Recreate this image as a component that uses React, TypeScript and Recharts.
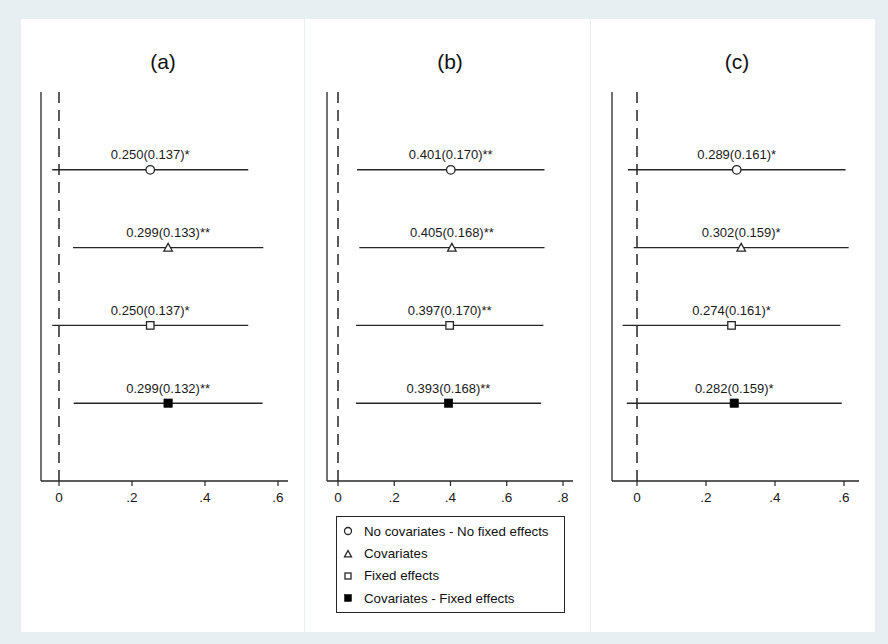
import React from 'react';
import { ScatterChart, Scatter, XAxis, YAxis, ReferenceLine, ErrorBar } from 'recharts';

const FONT = '"Liberation Sans", Arial, Helvetica, sans-serif';
const INK = '#262626';
const PAGE_BG = '#e8eff2';

// Model specifications, one marker style each
const modelNames = [
  'No covariates - No fixed effects',
  'Covariates',
  'Fixed effects',
  'Covariates - Fixed effects',
];
const modelMarkers = ['circle', 'triangle', 'square', 'filledSquare'];
// vertical slot of each model (top to bottom)
const rowSlots = [4, 3, 2, 1];

// Panel (a)
const coefA = [0.25, 0.299, 0.25, 0.299];
const seA = [0.137, 0.133, 0.137, 0.132];
const starsA = ['*', '**', '*', '**'];
const lowA = [-0.0185, 0.0383, -0.0185, 0.0403];
const highA = [0.5185, 0.5597, 0.5185, 0.5577];
const ticksA = [0, 0.2, 0.4, 0.6];

// Panel (b)
const coefB = [0.401, 0.405, 0.397, 0.393];
const seB = [0.17, 0.168, 0.17, 0.168];
const starsB = ['**', '**', '**', '**'];
const lowB = [0.0678, 0.0757, 0.0638, 0.0637];
const highB = [0.7342, 0.7343, 0.7302, 0.7223];
const ticksB = [0, 0.2, 0.4, 0.6, 0.8];

// Panel (c)
const coefC = [0.289, 0.302, 0.274, 0.282];
const seC = [0.161, 0.159, 0.161, 0.159];
const starsC = ['*', '*', '*', '*'];
const lowC = [-0.0266, -0.0096, -0.0416, -0.0296];
const highC = [0.6046, 0.6136, 0.5896, 0.5936];
const ticksC = [0, 0.2, 0.4, 0.6];

type Point = { x: number; y: number; err: [number, number]; label: string };

function buildRows(coef: number[], se: number[], stars: string[], low: number[], high: number[]): Point[][] {
  return coef.map((c, i) => [
    {
      x: c,
      y: rowSlots[i],
      err: [c - low[i], high[i] - c],
      label: `${c.toFixed(3)}(${se[i].toFixed(3)})${stars[i]}`,
    },
  ]);
}

const fmtTick = (v: number) => (v === 0 ? '0' : v.toFixed(1).replace(/^0/, ''));

function drawMarker(kind: string, cx: number, cy: number, s: number) {
  const sw = 1.3;
  if (kind === 'circle') {
    return <circle cx={cx} cy={cy} r={s * 0.5} fill="#fff" stroke={INK} strokeWidth={sw} />;
  }
  if (kind === 'triangle') {
    const h = s * 0.9;
    const pts = `${cx},${cy - h * 0.55} ${cx - s * 0.5},${cy + h * 0.45} ${cx + s * 0.5},${cy + h * 0.45}`;
    return <polygon points={pts} fill="#fff" stroke={INK} strokeWidth={sw} strokeLinejoin="miter" />;
  }
  if (kind === 'square') {
    const a = s - 1;
    return <rect x={cx - a / 2} y={cy - a / 2} width={a} height={a} fill="#fff" stroke={INK} strokeWidth={sw} />;
  }
  const a = s;
  return <rect x={cx - a / 2} y={cy - a / 2} width={a} height={a} fill="#000" stroke="#000" strokeWidth={0.5} />;
}

const makeShape = (kind: string) => (props: any) => {
  const { cx, cy, payload } = props;
  return (
    <g>
      {drawMarker(kind, cx, cy, 8.5)}
      <text
        x={cx}
        y={cy - 10.5}
        textAnchor="middle"
        fontFamily={FONT}
        fontSize={13}
        fill="#1a1a1a"
      >
        {payload.label}
      </text>
    </g>
  );
};

type PanelSpec = {
  title: string;
  left: number;
  width: number;
  titleX: number;
  domain: [number, number];
  ticks: number[];
  margin: { top: number; right: number; bottom: number; left: number };
  rows: Point[][];
};

const PANEL_TOP = 19;
const PANEL_H = 613;
const Y_AXIS_W = 1;

const panels: PanelSpec[] = [
  {
    title: '(a)',
    left: 21,
    width: 283,
    titleX: 163,
    domain: [-0.0493, 0.6274],
    ticks: ticksA,
    margin: { top: 73, right: 16, bottom: 121, left: 20 - Y_AXIS_W },
    rows: buildRows(coefA, seA, starsA, lowA, highA),
  },
  {
    title: '(b)',
    left: 305,
    width: 285,
    titleX: 450,
    domain: [-0.0391, 0.8356],
    ticks: ticksB,
    margin: { top: 73, right: 17, bottom: 121, left: 22 - Y_AXIS_W },
    rows: buildRows(coefB, seB, starsB, lowB, highB),
  },
  {
    title: '(c)',
    left: 591,
    width: 284,
    titleX: 737,
    domain: [-0.0725, 0.6435],
    ticks: ticksC,
    margin: { top: 73, right: 16, bottom: 121, left: 21 - Y_AXIS_W },
    rows: buildRows(coefC, seC, starsC, lowC, highC),
  },
];

function Panel({ spec }: { spec: PanelSpec }) {
  return (
    <div
      style={{
        position: 'absolute',
        left: spec.left,
        top: PANEL_TOP,
        width: spec.width,
        height: PANEL_H,
        background: '#fff',
      }}
    >
      <div
        style={{
          position: 'absolute',
          left: spec.titleX - spec.left - 40,
          width: 80,
          top: 62 - PANEL_TOP - 13,
          height: 26,
          lineHeight: '26px',
          textAlign: 'center',
          fontFamily: FONT,
          fontSize: 21,
          color: '#111',
        }}
      >
        {spec.title}
      </div>
      <ScatterChart width={spec.width} height={PANEL_H} margin={spec.margin}>
        <XAxis
          type="number"
          dataKey="x"
          domain={spec.domain}
          ticks={spec.ticks}
          allowDataOverflow
          tickFormatter={fmtTick}
          height={30}
          tickSize={5}
          tickMargin={6}
          axisLine={{ stroke: INK, strokeWidth: 1.3 }}
          tickLine={{ stroke: INK, strokeWidth: 1.2 }}
          tick={{ fill: '#1a1a1a', fontFamily: FONT, fontSize: 13.5 }}
        />
        <YAxis
          type="number"
          dataKey="y"
          domain={[0, 5]}
          allowDataOverflow
          width={Y_AXIS_W}
          tick={false}
          tickLine={false}
          axisLine={{ stroke: INK, strokeWidth: 1.3 }}
        />
        <ReferenceLine x={0} stroke={INK} strokeWidth={1.5} strokeDasharray="11 7" />
        {spec.rows.map((data, i) => (
          <Scatter
            key={modelNames[i]}
            name={modelNames[i]}
            data={data}
            shape={makeShape(modelMarkers[i])}
            isAnimationActive={false}
          >
            <ErrorBar dataKey="err" direction="x" width={0} stroke={INK} strokeWidth={1.4} />
          </Scatter>
        ))}
      </ScatterChart>
    </div>
  );
}

function LegendBox() {
  return (
    <div
      style={{
        position: 'absolute',
        left: 336,
        top: 516,
        width: 227,
        height: 92,
        border: `1px solid ${INK}`,
        background: '#fff',
        paddingTop: 3,
        boxSizing: 'content-box',
      }}
    >
      {modelNames.map((name, i) => (
        <div
          key={name}
          style={{ height: 22.4, display: 'flex', alignItems: 'center', fontFamily: FONT, fontSize: 13.3, color: '#111' }}
        >
          <svg width={22} height={20} style={{ marginLeft: 0, flex: 'none' }}>
            {drawMarker(modelMarkers[i], 11, 10, 7)}
          </svg>
          <span style={{ marginLeft: 5, whiteSpace: 'nowrap' }}>{name}</span>
        </div>
      ))}
    </div>
  );
}

export default function App() {
  return (
    <div
      style={{
        position: 'absolute',
        left: 0,
        top: 0,
        width: 888,
        height: 644,
        background: PAGE_BG,
        overflow: 'hidden',
      }}
    >
      {panels.map((p) => (
        <Panel key={p.title} spec={p} />
      ))}
      <LegendBox />
    </div>
  );
}
